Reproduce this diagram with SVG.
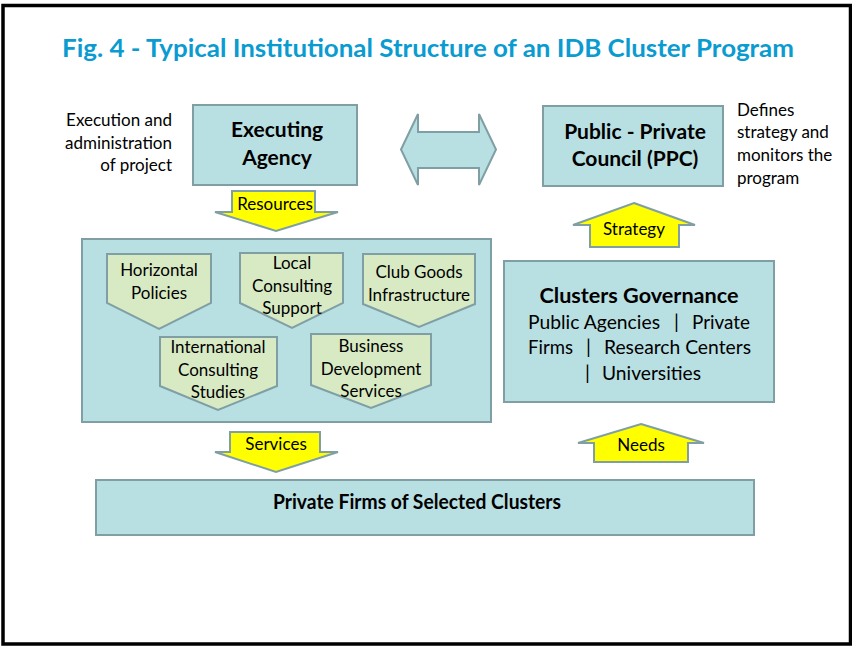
<svg xmlns="http://www.w3.org/2000/svg" width="852" height="646" viewBox="0 0 852 646">
  <style>
    text { font-family: Lato, "Open Sans", "Liberation Sans", sans-serif; fill: #000; }
    .box { fill: #B8DFE2; stroke: #7F9FA4; stroke-width: 2; }
    .tag { fill: #D8EAC4; stroke: #7F9FA4; stroke-width: 2; }
    .flow { fill: #FFFF00; stroke: #7F9FA4; stroke-width: 2; stroke-linejoin: miter; }
    .big { font-size: 21px; font-weight: bold; text-anchor: middle; }
    .lbl { font-size: 17px; text-anchor: middle; }
    .gov { font-size: 19.5px; }
    .note { font-size: 17px; }
    .title { font-size: 24px; font-weight: bold; fill: #0A9BD0; text-anchor: middle; }
  </style>

  <rect x="0" y="0" width="852" height="646" fill="#fff"/>
  <!-- outer frame -->
  <rect x="3" y="5.5" width="847.5" height="638.5" fill="none" stroke="#000" stroke-width="3.5"/>

  <text class="title" x="428" y="57" textLength="732" lengthAdjust="spacingAndGlyphs">Fig. 4 - Typical Institutional Structure of an IDB Cluster Program</text>

  <!-- side notes -->
  <text class="note" text-anchor="end" x="172" y="126">Execution and</text>
  <text class="note" text-anchor="end" x="172" y="149">administration</text>
  <text class="note" text-anchor="end" x="172" y="171">of project</text>

  <text class="note" x="737" y="116">Defines</text>
  <text class="note" x="737" y="138">strategy and</text>
  <text class="note" x="737" y="161">monitors the</text>
  <text class="note" x="737" y="184">program</text>

  <g id="executing-agency">
    <rect class="box" x="193" y="105" width="164" height="80"/>
    <text class="big" x="277" y="137">Executing</text>
    <text class="big" x="277" y="165">Agency</text>
  </g>

  <g id="ppc">
    <rect class="box" x="543" y="106" width="180" height="80"/>
    <text class="big" x="635" y="139">Public - Private</text>
    <text class="big" x="635" y="166">Council (PPC)</text>
  </g>

  <g id="instruments">
    <rect class="box" x="82" y="239" width="409" height="183"/>
    <g id="horizontal-policies">
      <polygon class="tag" points="107,254 211,254 211,303 159,329 107,303"/>
      <text class="lbl" x="159" y="276">Horizontal</text>
      <text class="lbl" x="159" y="299">Policies</text>
    </g>
    <g id="local-consulting">
      <polygon class="tag" points="240,253 343,253 343,303 292,328 240,303"/>
      <text class="lbl" x="292" y="269">Local</text>
      <text class="lbl" x="292" y="292">Consulting</text>
      <text class="lbl" x="292" y="314">Support</text>
    </g>
    <g id="club-goods">
      <polygon class="tag" points="363,254 475,254 475,304 419,327 363,304"/>
      <text class="lbl" x="419" y="278">Club Goods</text>
      <text class="lbl" x="419" y="301">Infrastructure</text>
    </g>
    <g id="international-consulting">
      <polygon class="tag" points="160,337 277,337 277,386 218,410 160,386"/>
      <text class="lbl" x="218" y="353">International</text>
      <text class="lbl" x="218" y="376">Consulting</text>
      <text class="lbl" x="218" y="398">Studies</text>
    </g>
    <g id="business-development">
      <polygon class="tag" points="311,334 431,334 431,385 371,408 311,385"/>
      <text class="lbl" x="371" y="352">Business</text>
      <text class="lbl" x="371" y="375">Development</text>
      <text class="lbl" x="371" y="397">Services</text>
    </g>
  </g>

  <g id="clusters-governance">
    <rect class="box" x="504" y="261" width="270" height="141"/>
    <text class="big" x="639" y="303" textLength="199" lengthAdjust="spacingAndGlyphs">Clusters Governance</text>
    <text class="gov" x="528" y="329" textLength="132" lengthAdjust="spacingAndGlyphs">Public Agencies</text>
    <text class="gov" x="674" y="329">|</text>
    <text class="gov" x="692" y="329" textLength="58" lengthAdjust="spacingAndGlyphs">Private</text>
    <text class="gov" x="528" y="354" textLength="45" lengthAdjust="spacingAndGlyphs">Firms</text>
    <text class="gov" x="586" y="354">|</text>
    <text class="gov" x="604" y="354" textLength="147" lengthAdjust="spacingAndGlyphs">Research Centers</text>
    <text class="gov" x="585" y="380">|</text>
    <text class="gov" x="602" y="380" textLength="99" lengthAdjust="spacingAndGlyphs">Universities</text>
  </g>

  <g id="private-firms">
    <rect class="box" x="96" y="480" width="658" height="55"/>
    <text class="big" font-size="18" x="417" y="509" textLength="288" lengthAdjust="spacingAndGlyphs">Private Firms of Selected Clusters</text>
  </g>

  <g id="connectors">
    <!-- two-way link between the agency and the council -->
    <polygon class="box" points="401,149.5 418,114 418,132 479,132 479,114 496,149.5 479,185 479,168 418,168 418,185"/>
    <g id="resources">
      <polygon class="flow" points="232,191 315,191 315,212 338,212 276,231 215,212 232,212"/>
      <text class="lbl" x="275" y="210">Resources</text>
    </g>
    <g id="services">
      <polygon class="flow" points="230,432 320,432 320,452 338,452 276,472 215,452 230,452"/>
      <text class="lbl" x="276" y="450">Services</text>
    </g>
    <g id="strategy">
      <polygon class="flow" points="634,203 695,225 679,225 679,247 590,247 590,225 573,225"/>
      <text class="lbl" x="634" y="235">Strategy</text>
    </g>
    <g id="needs">
      <polygon class="flow" points="641,424 704,443 688,443 688,462 594,462 594,443 578,443"/>
      <text class="lbl" x="641" y="451">Needs</text>
    </g>
  </g>
</svg>
